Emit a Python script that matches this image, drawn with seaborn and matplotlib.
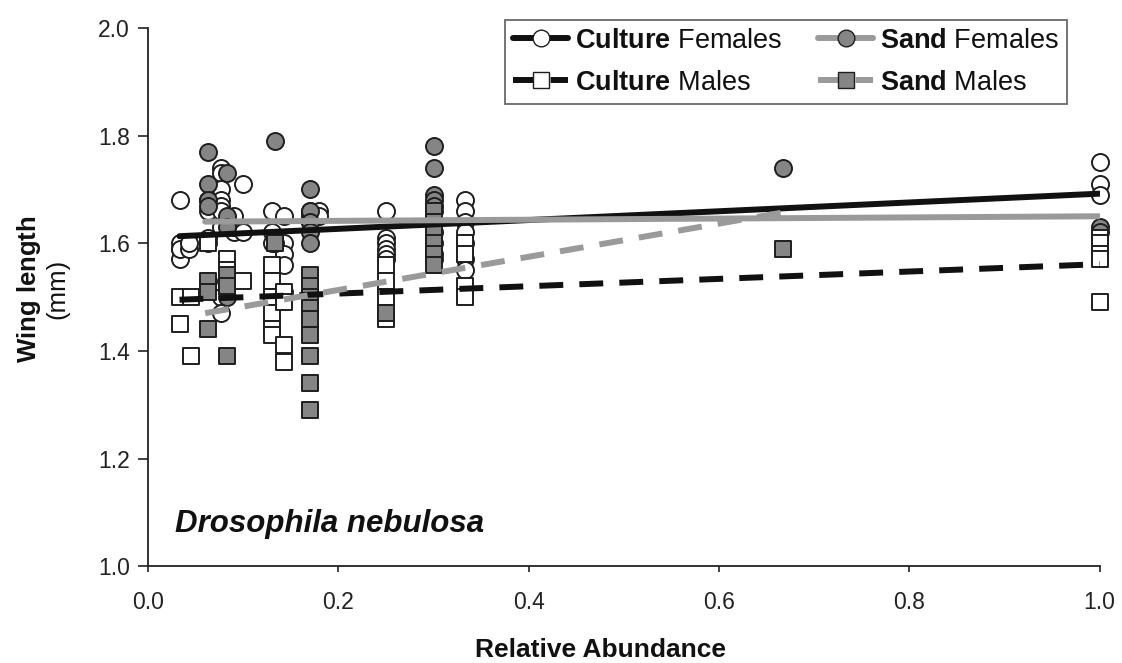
import numpy as np
import pandas as pd
import matplotlib
matplotlib.use("Agg")
import matplotlib.pyplot as plt
import seaborn as sns
from matplotlib.lines import Line2D

# ---- data ----
cf_x = [0.033]*5 + [0.043]*2 + [0.063]*3 + [0.077]*9 + [0.09]*4 + [0.1]*2 + [0.13]*4 + [0.143]*5 + [0.17]*3 + [0.18]*2 + [0.25]*6 + [0.333]*7 + [1.0]*3
cf_y = [1.68, 1.59, 1.60, 1.57, 1.59,
        1.59, 1.60,
        1.61, 1.66, 1.68,
        1.74, 1.73, 1.70, 1.68, 1.67, 1.66, 1.63, 1.50, 1.47,
        1.62, 1.63, 1.64, 1.65,
        1.71, 1.62,
        1.66, 1.62, 1.60, 1.55,
        1.65, 1.60, 1.58, 1.56, 1.51,
        1.66, 1.65, 1.64,
        1.66, 1.65,
        1.66, 1.61, 1.60, 1.59, 1.58, 1.57,
        1.68, 1.66, 1.64, 1.62, 1.60, 1.57, 1.55,
        1.75, 1.71, 1.69]

sf_x = [0.063]*6 + [0.083]*4 + [0.133]*2 + [0.17]*5 + [0.3]*11 + [0.667] + [1.0]*2
sf_y = [1.77, 1.71, 1.68, 1.67, 1.60, 1.53,
        1.73, 1.65, 1.63, 1.50,
        1.79, 1.60,
        1.70, 1.66, 1.64, 1.62, 1.60,
        1.78, 1.74, 1.69, 1.68, 1.67, 1.66, 1.64, 1.62, 1.60, 1.58, 1.57,
        1.74,
        1.63, 1.62]

cm_x = [0.033]*2 + [0.045]*2 + [0.063] + [0.083]*3 + [0.1] + [0.13]*6 + [0.143]*4 + [0.17] + [0.25]*5 + [0.333]*4 + [1.0]*5
cm_y = [1.50, 1.45,
        1.39, 1.50,
        1.60,
        1.57, 1.55, 1.52,
        1.53,
        1.56, 1.53, 1.50, 1.47, 1.44, 1.43,
        1.41, 1.38, 1.51, 1.49,
        1.53,
        1.56, 1.53, 1.50, 1.47, 1.46,
        1.60, 1.58, 1.52, 1.50,
        1.61, 1.60, 1.58, 1.57, 1.49]

sm_x = [0.063]*3 + [0.083]*3 + [0.133] + [0.17]*9 + [0.25] + [0.3]*6 + [0.667]
sm_y = [1.53, 1.51, 1.44,
        1.54, 1.52, 1.39,
        1.60,
        1.54, 1.52, 1.50, 1.48, 1.46, 1.43, 1.39, 1.34, 1.29,
        1.47,
        1.66, 1.64, 1.62, 1.60, 1.58, 1.56,
        1.59]

# trend lines (end points)
cf_trend_x = [0.033, 1.0]; cf_trend_y = [1.613, 1.692]
sf_trend_x = [0.06, 1.0];  sf_trend_y = [1.640, 1.650]
cm_trend_x = [0.033, 1.0]; cm_trend_y = [1.495, 1.561]
sm_trend_x = [0.06, 0.667]; sm_trend_y = [1.470, 1.657]

x_ticks = [0.0, 0.2, 0.4, 0.6, 0.8, 1.0]
y_ticks = [1.0, 1.2, 1.4, 1.6, 1.8, 2.0]

# ---- styling ----
sns.set_theme(style="white")
plt.rcParams['font.family'] = ['Liberation Sans', 'DejaVu Sans']
plt.rcParams['mathtext.fontset'] = 'custom'
plt.rcParams['mathtext.rm'] = 'Liberation Sans'
plt.rcParams['mathtext.bf'] = 'Liberation Sans:bold'
plt.rcParams['mathtext.it'] = 'Liberation Sans:italic'

fig = plt.figure(figsize=(11.22, 6.63), dpi=100)
ax = fig.add_axes([0.132, 0.146, 0.848, 0.812])

GRAY_FILL = "#858585"
GRAY_LINE = "#9a9a9a"
EDGE = "#1e1e1e"

df_cf = pd.DataFrame({"x": cf_x, "y": cf_y})
df_sf = pd.DataFrame({"x": sf_x, "y": sf_y})
df_cm = pd.DataFrame({"x": cm_x, "y": cm_y})
df_sm = pd.DataFrame({"x": sm_x, "y": sm_y})

msz = 150
sns.scatterplot(data=df_cf, x="x", y="y", marker="o", s=msz, facecolor="white",
                edgecolor=EDGE, linewidth=1.4, ax=ax, zorder=3, legend=False)
sns.scatterplot(data=df_sf, x="x", y="y", marker="o", s=msz, facecolor=GRAY_FILL,
                edgecolor=EDGE, linewidth=1.4, ax=ax, zorder=3, legend=False)
sns.scatterplot(data=df_cm, x="x", y="y", marker="s", s=140, facecolor="white",
                edgecolor=EDGE, linewidth=1.4, ax=ax, zorder=3, legend=False)
sns.scatterplot(data=df_sm, x="x", y="y", marker="s", s=140, facecolor=GRAY_FILL,
                edgecolor=EDGE, linewidth=1.4, ax=ax, zorder=3, legend=False)
for coll in ax.collections:
    coll.set_clip_on(False)

lw = 4.3
DASH = [4, 2.7]
sns.lineplot(x=cf_trend_x, y=cf_trend_y, color="#111111", lw=lw, ax=ax, zorder=4)
sns.lineplot(x=sf_trend_x, y=sf_trend_y, color=GRAY_LINE, lw=lw, ax=ax, zorder=4)
sns.lineplot(x=cm_trend_x, y=cm_trend_y, color="#111111", lw=lw, ax=ax, zorder=4)
ax.lines[-1].set_dashes(DASH)
sns.lineplot(x=sm_trend_x, y=sm_trend_y, color=GRAY_LINE, lw=lw, ax=ax, zorder=4)
ax.lines[-1].set_dashes(DASH)

ax.set_xlim(0, 1.0)
ax.set_ylim(1.0, 2.0)
ax.set_xticks(x_ticks)
ax.set_yticks(y_ticks)
ax.set_xticklabels([f"{v:.1f}" for v in x_ticks], fontsize=16.5, color="#222222")
ax.set_yticklabels([f"{v:.1f}" for v in y_ticks], fontsize=16.5, color="#222222")
ax.tick_params(axis="y", direction="out", length=7, width=1.2, color="#222222",
               left=True, pad=6)
ax.tick_params(axis="x", direction="out", length=4, width=1.2, color="#222222",
               bottom=True, pad=14)
for s in ["top", "right"]:
    ax.spines[s].set_visible(False)
for s in ["left", "bottom"]:
    ax.spines[s].set_color("#222222")
    ax.spines[s].set_linewidth(1.3)

ax.set_xlabel("Relative Abundance", fontsize=19, fontweight="bold", color="#111111")
ax.xaxis.set_label_coords(0.475, -0.133)
ax.set_ylabel("$\\bf{Wing\\ length}$\n(mm)", fontsize=18.5, linespacing=1.1,
              color="#111111")
ax.yaxis.set_label_coords(-0.083, 0.515)

ax.text(0.028, 0.078, "Drosophila nebulosa", transform=ax.transAxes, fontsize=22.5,
        fontweight="bold", fontstyle="italic", va="center", color="#111111")

LEG_DASH = [4.8, 1.5, 3.0, 10]
handles = [
    Line2D([0], [0], color="#111111", lw=lw, marker="o", markersize=12,
           markerfacecolor="white", markeredgecolor=EDGE),
    Line2D([0], [0], color="#111111", lw=lw, dashes=LEG_DASH, marker="s", markersize=11,
           markerfacecolor="white", markeredgecolor=EDGE),
    Line2D([0], [0], color=GRAY_LINE, lw=lw, marker="o", markersize=12,
           markerfacecolor=GRAY_FILL, markeredgecolor=EDGE),
    Line2D([0], [0], color=GRAY_LINE, lw=lw, dashes=LEG_DASH, marker="s", markersize=11,
           markerfacecolor=GRAY_FILL, markeredgecolor=EDGE),
]
labels = ["$\\bf{Culture}$ Females", "$\\bf{Culture}$ Males",
          "$\\bf{Sand}$ Females", "$\\bf{Sand}$ Males"]
leg = ax.legend(handles, labels, ncol=2, loc="upper right", bbox_to_anchor=(0.966, 1.015),
                fontsize=19.5, frameon=True, fancybox=False, edgecolor="#444444",
                handlelength=2.05, columnspacing=1.3, handletextpad=0.25,
                borderpad=0.3, labelspacing=0.58, borderaxespad=0)
leg.get_frame().set_linewidth(1.3)
for t in leg.get_texts():
    t.set_color("#111111")

fig.savefig("out.png", dpi=100)
